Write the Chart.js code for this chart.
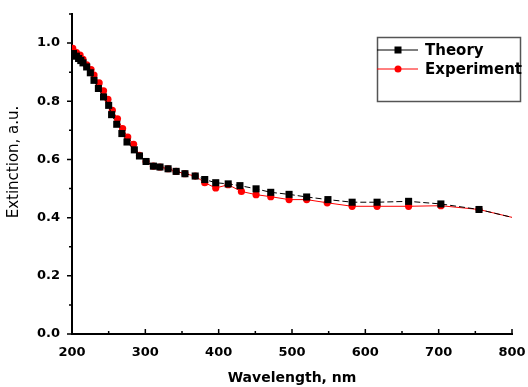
<!DOCTYPE html>
<html lang="en">
  <head>
    <meta charset="UTF-8" />
    <title>Extinction</title>
    <style>
      body { margin: 0; background: #fff; }
      .plot { width: 528px; height: 387px; }
    </style>
  </head>
  <body>
    <div class="plot"><canvas id="chart"></canvas></div>

    <script src="https://cdn.jsdelivr.net/npm/chart.js@4.4.1/dist/chart.umd.min.js"></script>
    <script>
      // values
      const theoryX = [202, 206, 209, 212, 215, 220, 225, 230, 236, 243, 250, 254, 261, 268, 275, 285, 292, 301, 311, 320, 331, 342, 354, 368, 381, 396, 413, 429, 451, 471, 496, 520, 549, 582, 616, 659, 703, 755, 800];
      const theoryY = [0.964, 0.955, 0.947, 0.94, 0.932, 0.918, 0.898, 0.872, 0.844, 0.815, 0.786, 0.754, 0.721, 0.689, 0.66, 0.633, 0.612, 0.593, 0.577, 0.574, 0.568, 0.559, 0.551, 0.543, 0.531, 0.52, 0.516, 0.51, 0.499, 0.487, 0.48, 0.471, 0.462, 0.453, 0.453, 0.456, 0.447, 0.428, 0.401];
      const expX = [201, 206, 211, 215, 220, 226, 230, 237, 243, 249, 255, 262, 269, 276, 284, 292, 301, 311, 320, 331, 342, 354, 368, 381, 396, 413, 431, 451, 471, 496, 520, 548, 582, 616, 659, 703, 755, 800];
      const expY = [0.982, 0.967, 0.959, 0.944, 0.925, 0.909, 0.89, 0.863, 0.836, 0.807, 0.769, 0.74, 0.706, 0.677, 0.652, 0.614, 0.593, 0.577, 0.574, 0.568, 0.559, 0.551, 0.543, 0.52, 0.502, 0.513, 0.49, 0.479, 0.472, 0.462, 0.462, 0.451, 0.439, 0.439, 0.439, 0.441, 0.428, 0.401];

      const xTicks = [200, 300, 400, 500, 600, 700, 800];
      const xMinor = [250, 350, 450, 550, 650, 750];
      const yTicks = [0, 0.2, 0.4, 0.6, 0.8, 1.0];
      const yMinor = [0.1, 0.3, 0.5, 0.7, 0.9, 1.1];
      const yTitle = "Extinction, a.u.";

      const toPoints = (xs, ys) => xs.map((v, i) => ({ x: v, y: ys[i] }));
      // no marker on the last point (line end)
      const lastHidden = (r) => (ctx) => ctx.dataIndex === ctx.dataset.data.length - 1 ? 0 : r;

      // minor / major tick marks like the original plot, plus the y title
      const tickMarks = {
        id: "tickMarks",
        afterDraw(chart) {
          const { ctx } = chart;
          const x = chart.scales.x;
          const y = chart.scales.y;
          ctx.save();
          ctx.strokeStyle = "#000";
          ctx.lineWidth = 1.5;
          ctx.beginPath();
          xTicks.forEach((v) => {
            const px = x.getPixelForValue(v);
            ctx.moveTo(px, x.top);
            ctx.lineTo(px, x.top - 5);
          });
          xMinor.forEach((v) => {
            const px = x.getPixelForValue(v);
            ctx.moveTo(px, x.top);
            ctx.lineTo(px, x.top - 3);
          });
          yTicks.forEach((v) => {
            const py = y.getPixelForValue(v);
            ctx.moveTo(y.right, py);
            ctx.lineTo(y.right - 5, py);
          });
          yMinor.forEach((v) => {
            const py = y.getPixelForValue(v);
            ctx.moveTo(y.right, py);
            ctx.lineTo(y.right - 3, py);
          });
          ctx.stroke();

          ctx.translate(14, 162);
          ctx.rotate(-Math.PI / 2);
          ctx.fillStyle = "#000";
          ctx.font = "15px 'DejaVu Sans'";
          ctx.textAlign = "center";
          ctx.textBaseline = "middle";
          ctx.fillText(yTitle, 0, 0);
          ctx.restore();
        },
      };

      // boxed legend inside the plot, top right
      const boxLegend = {
        id: "boxLegend",
        afterDraw(chart) {
          const { ctx } = chart;
          ctx.save();
          ctx.strokeStyle = "#555";
          ctx.lineWidth = 1.5;
          ctx.strokeRect(377.5, 37.5, 143, 64);
          chart.data.datasets.forEach((ds, i) => {
            const cy = 50 + i * 19;
            ctx.strokeStyle = ds.borderColor;
            ctx.lineWidth = 1;
            ctx.beginPath();
            ctx.moveTo(377, cy);
            ctx.lineTo(418, cy);
            ctx.stroke();
            ctx.fillStyle = ds.backgroundColor;
            ctx.beginPath();
            if (ds.pointStyle === "rect") {
              ctx.rect(394.5, cy - 3.5, 7, 7);
            } else {
              ctx.arc(398, cy, 3.5, 0, Math.PI * 2);
            }
            ctx.fill();
            ctx.fillStyle = "#000";
            ctx.font = "bold 15px 'DejaVu Sans'";
            ctx.textBaseline = "middle";
            ctx.fillText(ds.label, 425, cy + 1);
          });
          ctx.restore();
        },
      };

      new Chart(document.getElementById("chart"), {
        type: "line",
        data: {
          datasets: [
            {
              label: "Theory",
              data: toPoints(theoryX, theoryY),
              borderColor: "#000",
              backgroundColor: "#000",
              borderWidth: 1,
              borderDash: [6, 3],
              pointStyle: "rect",
              pointRadius: lastHidden(5),
              pointBorderWidth: 0,
              tension: 0,
            },
            {
              label: "Experiment",
              data: toPoints(expX, expY),
              borderColor: "#ff0000",
              backgroundColor: "#ff0000",
              borderWidth: 1,
              pointStyle: "circle",
              pointRadius: lastHidden(3.6),
              pointBorderWidth: 0,
              tension: 0,
            },
          ],
        },
        options: {
          responsive: true,
          maintainAspectRatio: false,
          animation: false,
          layout: { padding: { left: 0, top: 14, right: 16, bottom: 0 } },
          plugins: { legend: { display: false }, tooltip: { enabled: false } },
          scales: {
            x: {
              type: "linear",
              min: 200,
              max: 800,
              afterBuildTicks: (s) => { s.ticks = xTicks.map((v) => ({ value: v })); },
              afterFit: (s) => {
                s.height = 53;
                s.paddingLeft = 0;
                s.paddingRight = 0;
              },
              grid: { display: false, drawTicks: false },
              border: { display: true, color: "#000", width: 2 },
              ticks: {
                padding: 11,
                color: "#000",
                font: { family: "DejaVu Sans", size: 13, weight: "bold" },
              },
              title: {
                display: true,
                text: "Wavelength, nm",
                color: "#000",
                font: { family: "DejaVu Sans", size: 14, weight: "bold" },
                padding: { top: 0, bottom: 0 },
              },
            },
            y: {
              type: "linear",
              min: 0,
              max: 1.1,
              afterBuildTicks: (s) => { s.ticks = yTicks.map((v) => ({ value: v })); },
              afterFit: (s) => {
                s.width = 72;
                s.paddingTop = 0;
                s.paddingBottom = 0;
              },
              grid: { display: false, drawTicks: false },
              border: { display: true, color: "#000", width: 2 },
              ticks: {
                padding: 12,
                color: "#000",
                font: { family: "DejaVu Sans", size: 13, weight: "bold" },
                callback: (v) => v.toFixed(1),
              },
            },
          },
        },
        plugins: [tickMarks, boxLegend],
      });
    </script>
  </body>
</html>
